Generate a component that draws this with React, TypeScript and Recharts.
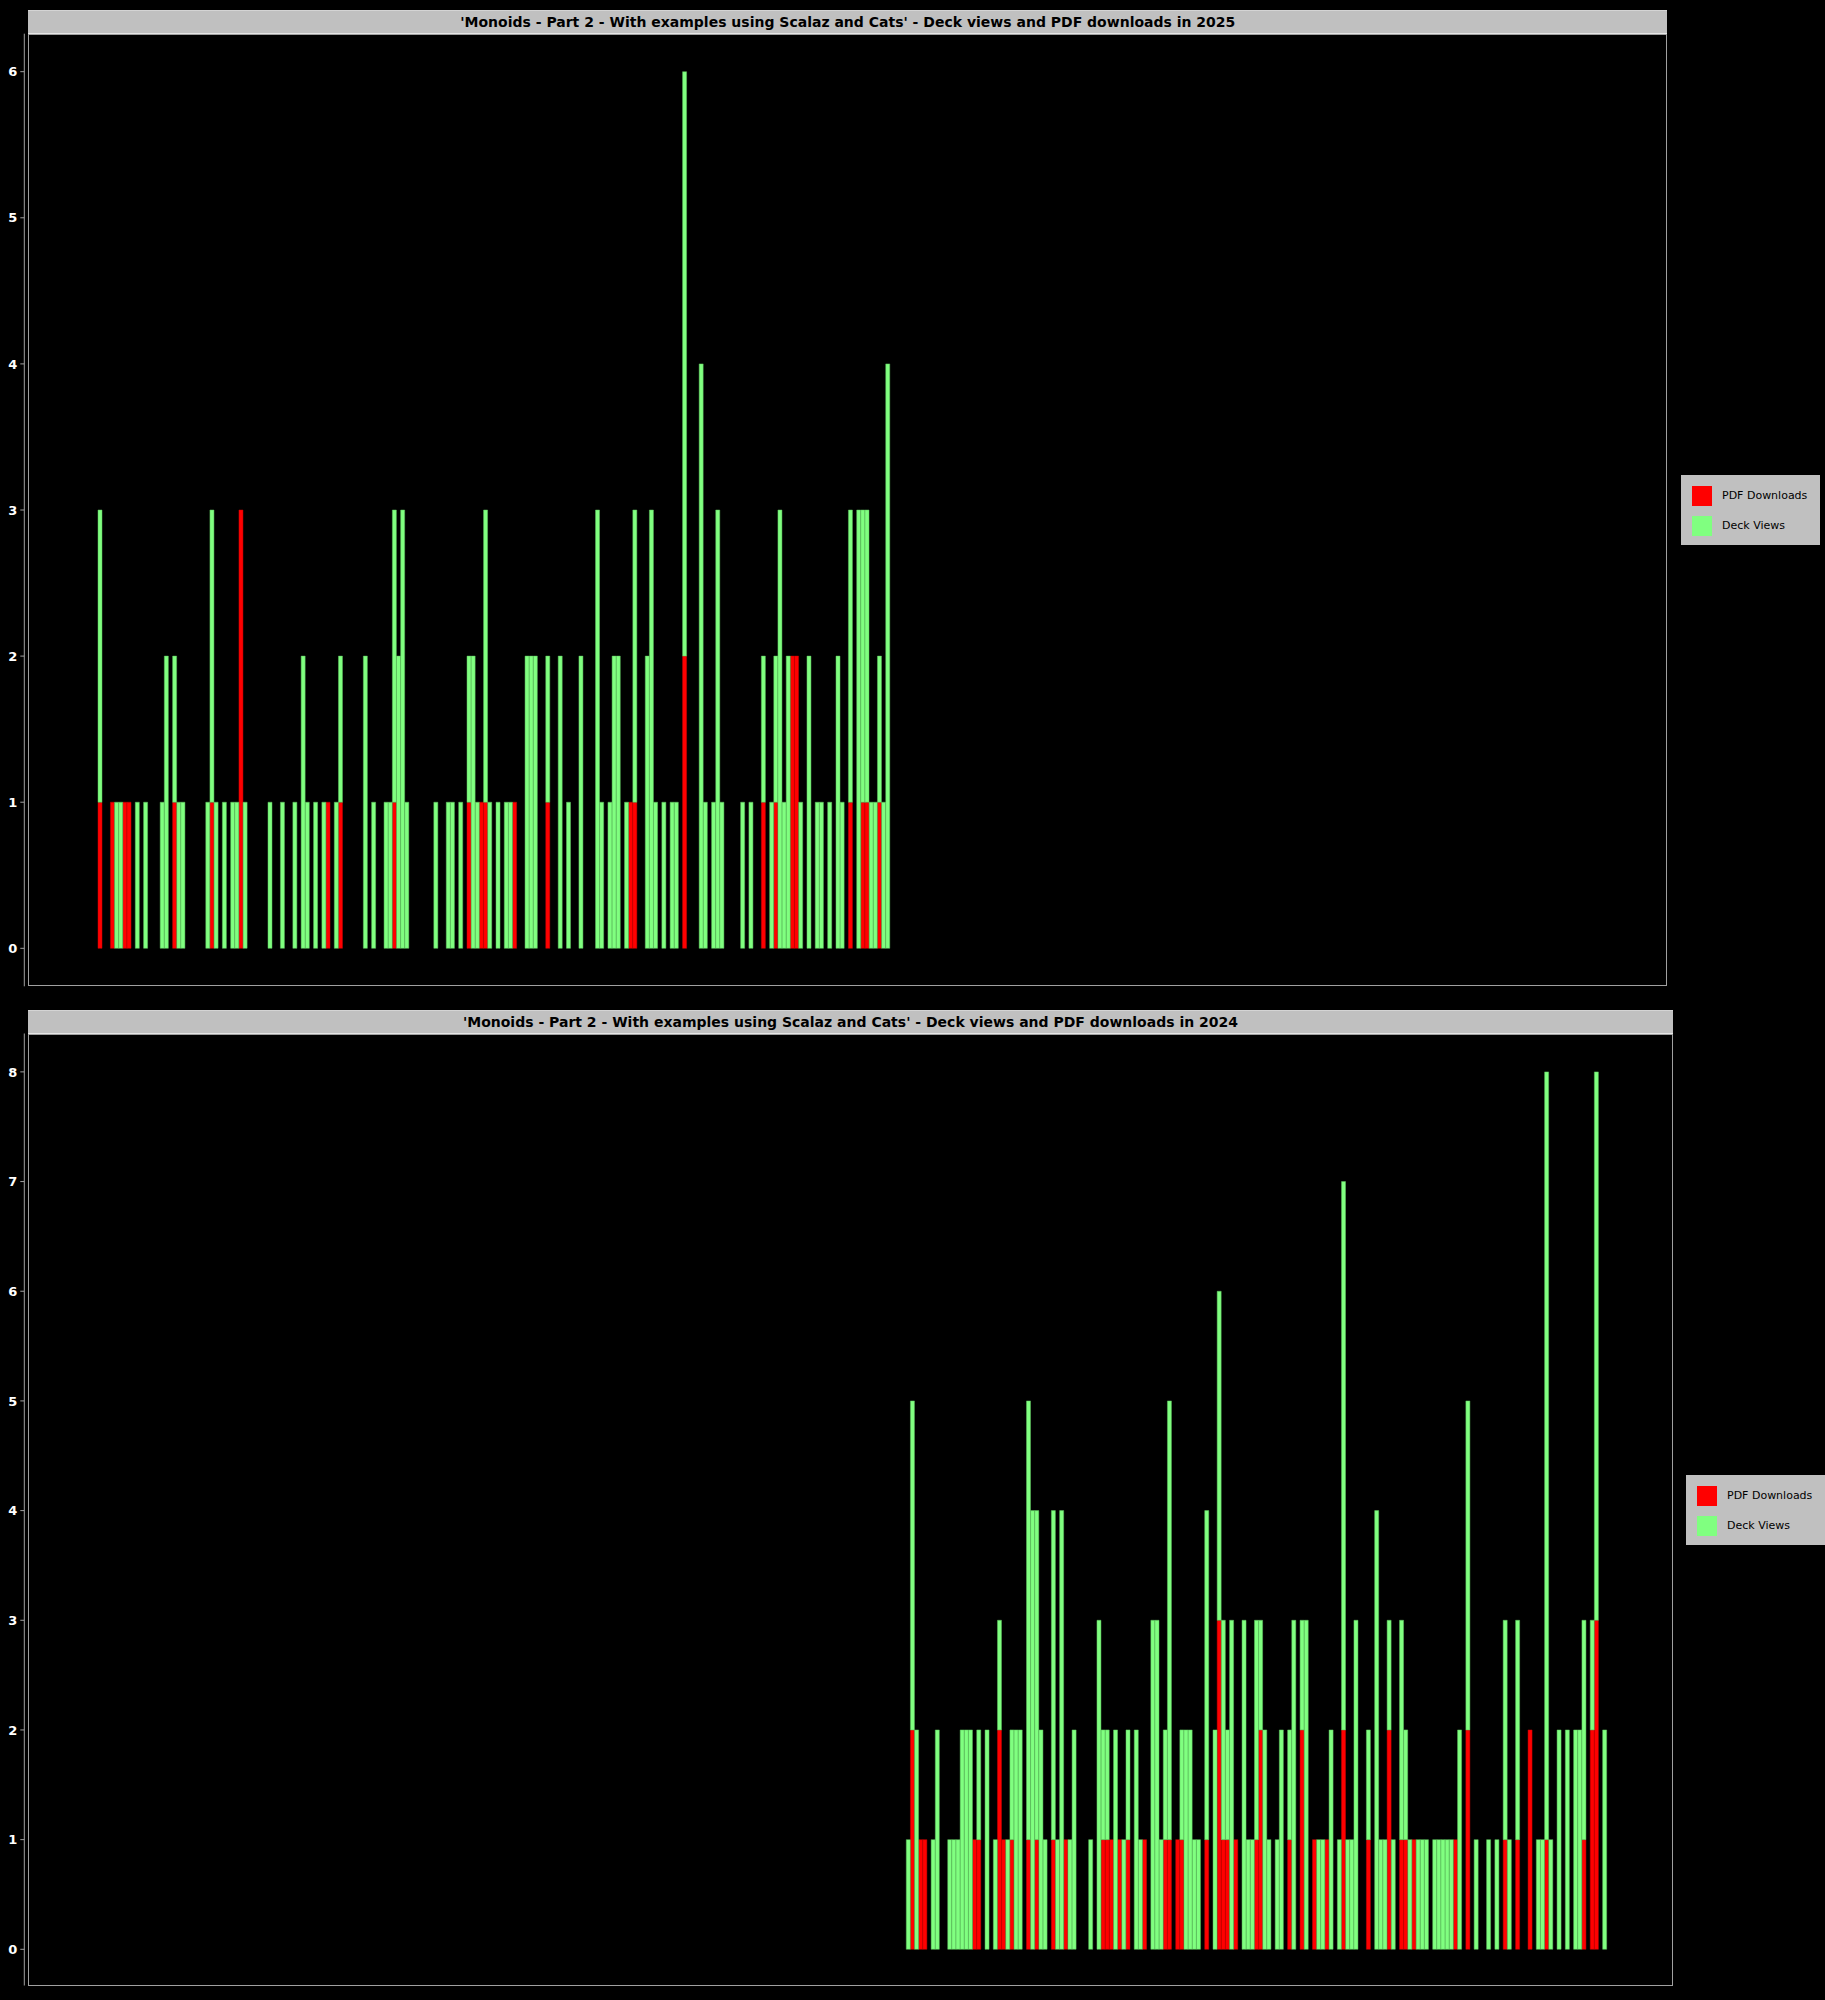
import React from "react";
import { BarChart, Bar, XAxis, YAxis } from "recharts";

// ---------- text ----------
const TITLE_2025 =
  "'Monoids - Part 2 - With examples using Scalaz and Cats' - Deck views and PDF downloads in 2025";
const TITLE_2024 =
  "'Monoids - Part 2 - With examples using Scalaz and Cats' - Deck views and PDF downloads in 2024";
const SERIES_NAMES = ["PDF Downloads", "Deck Views"];
const SERIES_COLORS = ["#ff0000", "#80ff80"];
const SERIES_STROKES = ["#c80000", "#5fc35f"];

// ---------- 2025 data (day of year, 0 = Jan 1) ----------
const days2025 = [
  0, 3, 4, 5, 6, 7, 9, 11, 15, 16, 18, 19, 20, 26, 27, 28, 30, 32, 33, 34, 35, 41, 44, 47, 49,
  50, 52, 54, 55, 57, 58, 64, 66, 69, 70, 71, 72, 73, 74, 81, 84, 85, 87, 89, 90, 91, 92, 93, 94,
  96, 98, 99, 100, 103, 104, 105, 108, 111, 113, 116, 120, 121, 123, 124, 125, 127, 128, 129, 132,
  133, 134, 136, 138, 139, 141, 145, 146, 148, 149, 150, 155, 157, 160, 162, 163, 164, 165, 166,
  167, 168, 169, 171, 173, 174, 176, 178, 179, 181, 183, 184, 185, 186, 187, 188, 189, 190,
];
const downloads2025 = [
  1, 1, 0, 0, 1, 1, 0, 0, 0, 0, 1, 0, 0, 0, 1, 0, 0, 0, 0, 3, 0, 0, 0, 0, 0,
  0, 0, 0, 1, 0, 1, 0, 0, 0, 0, 1, 0, 0, 0, 0, 0, 0, 0, 1, 0, 0, 1, 1, 0,
  0, 0, 0, 1, 0, 0, 0, 1, 0, 0, 0, 0, 0, 0, 0, 0, 0, 1, 1, 0,
  0, 0, 0, 0, 0, 2, 0, 0, 0, 0, 0, 0, 0, 1, 0, 1, 0, 0, 0,
  2, 2, 0, 0, 0, 0, 0, 0, 0, 1, 0, 1, 1, 0, 0, 1, 0, 0,
];
const views2025 = [
  2, 0, 1, 1, 0, 0, 1, 1, 1, 2, 1, 1, 1, 1, 2, 1, 1, 1, 1, 0, 1, 1, 1, 1, 2,
  1, 1, 1, 0, 1, 1, 2, 1, 1, 1, 2, 2, 3, 1, 1, 1, 1, 1, 1, 2, 1, 0, 2, 1,
  1, 1, 1, 0, 2, 2, 2, 1, 2, 1, 2, 3, 1, 1, 2, 2, 1, 0, 2, 2,
  3, 1, 1, 1, 1, 4, 4, 1, 1, 3, 1, 1, 1, 1, 1, 1, 3, 1, 2,
  0, 0, 1, 2, 1, 1, 1, 2, 1, 2, 3, 2, 2, 1, 1, 1, 1, 4,
];
const yTicks2025 = [0, 1, 2, 3, 4, 5, 6];

// ---------- 2024 data (day of year, 0 = Jan 1) ----------
const days2024 = [
  195, 196, 197, 198, 199, 201, 202, 205, 206, 207, 208, 209, 210, 211, 212, 214, 216, 217, 218,
  219, 220, 221, 222, 224, 225, 226, 227, 228, 230, 231, 232, 233, 234, 235, 239, 241, 242, 243,
  244, 245, 246, 247, 248, 250, 251, 252, 254, 255, 256, 257, 258, 260, 261, 262, 263, 264, 265,
  267, 269, 270, 271, 272, 273, 274, 276, 277, 278, 279, 280, 281, 282, 284, 285, 287, 288, 290,
  291, 293, 294, 295, 296, 297, 299, 300, 301, 302, 303, 306, 308, 309, 310, 311, 312, 314, 315,
  316, 317, 318, 319, 320, 322, 323, 324, 325, 326, 327, 328, 330, 332, 335, 337, 339, 340, 342,
  345, 347, 348, 349, 350, 352, 354, 356, 357, 358, 360, 361, 363,
];
const downloads2024 = [
  0, 2, 0, 1, 1, 0, 0, 0, 0, 0, 0, 0, 0, 1, 1, 0, 0, 2, 1,
  0, 1, 0, 0, 1, 0, 1, 0, 0, 1, 0, 0, 1, 0, 0, 0, 0, 1, 1,
  1, 0, 1, 0, 1, 0, 0, 1, 0, 0, 0, 1, 1, 1, 1, 0, 0, 0, 0,
  1, 0, 3, 1, 1, 0, 1, 0, 0, 0, 1, 2, 0, 0, 0, 0, 1, 0, 2,
  0, 1, 0, 0, 1, 0, 0, 2, 0, 0, 0, 1, 0, 0, 0, 2, 0, 1, 1,
  0, 1, 0, 0, 0, 0, 0, 0, 0, 0, 1, 0, 2, 0, 0, 0, 1, 0, 1,
  2, 0, 0, 1, 0, 0, 0, 0, 0, 1, 2, 3, 0,
];
const views2024 = [
  1, 3, 2, 0, 0, 1, 2, 1, 1, 1, 2, 2, 2, 0, 1, 2, 1, 1, 0,
  1, 1, 2, 2, 4, 4, 3, 2, 1, 3, 1, 4, 0, 1, 2, 1, 3, 1, 1,
  0, 2, 0, 1, 1, 2, 1, 0, 3, 3, 1, 1, 4, 0, 1, 2, 2, 1, 1,
  3, 2, 3, 2, 1, 3, 0, 3, 1, 1, 2, 1, 2, 1, 1, 2, 1, 3, 1,
  3, 0, 1, 1, 0, 2, 1, 5, 1, 1, 3, 1, 4, 1, 1, 1, 1, 2, 1,
  1, 0, 1, 1, 1, 1, 1, 1, 1, 1, 0, 2, 3, 1, 1, 1, 2, 1, 2,
  0, 1, 1, 7, 1, 2, 2, 2, 2, 2, 1, 5, 2,
];
const yTicks2024 = [0, 1, 2, 3, 4, 5, 6, 7, 8];

// ---------- table builder ----------
function buildYear(year: number, days: number[], downloads: number[], views: number[]) {
  const leap = (year % 4 === 0 && year % 100 !== 0) || year % 400 === 0;
  const n = leap ? 366 : 365;
  const rows: { date: string; downloads: number; views: number }[] = [];
  for (let i = 0; i < n; i++) {
    const d = new Date(Date.UTC(year, 0, 1 + i));
    rows.push({ date: d.toISOString().slice(0, 10), downloads: 0, views: 0 });
  }
  days.forEach((day, k) => {
    rows[day].downloads = downloads[k];
    rows[day].views = views[k];
  });
  return rows;
}

const table2025 = buildYear(2025, days2025, downloads2025, views2025);
const table2024 = buildYear(2024, days2024, downloads2024, views2024);

const FONT = "'DejaVu Sans', 'Liberation Sans', sans-serif";

type PanelProps = {
  top: number;
  title: string;
  data: { date: string; downloads: number; views: number }[];
  ticks: number[];
  domain: [number, number];
  plotTop: number;
  plotBottom: number;
  plotRight: number;
  padRight: number;
  legendLeft: number;
  legendTop: number;
};

function Legend({ left, top }: { left: number; top: number }) {
  return (
    <div
      style={{
        position: "absolute",
        left,
        top,
        width: 139,
        height: 70,
        background: "#c0c0c0",
        fontFamily: FONT,
        fontSize: 11,
        color: "#000",
      }}
    >
      {SERIES_NAMES.map((name, i) => (
        <div key={name}>
          <div
            style={{
              position: "absolute",
              left: 11,
              top: 11 + i * 30,
              width: 20,
              height: 20,
              background: SERIES_COLORS[i],
            }}
          />
          <div
            style={{
              position: "absolute",
              left: 41,
              top: 11 + i * 30,
              height: 20,
              lineHeight: "20px",
              whiteSpace: "nowrap",
            }}
          >
            {name}
          </div>
        </div>
      ))}
    </div>
  );
}

function Panel(p: PanelProps) {
  const AXIS_X = 24.3;
  const PLOT_LEFT = 28.3;
  return (
    <div style={{ position: "absolute", left: 0, top: p.top, width: 1825, height: 1000 }}>
      {/* title bar */}
      <div
        style={{
          position: "absolute",
          left: PLOT_LEFT,
          top: 10,
          width: p.plotRight - PLOT_LEFT,
          height: p.plotTop - 10,
          boxSizing: "border-box",
          background: "#c0c0c0",
          borderTop: "1px solid #d4d4d4",
          borderBottom: "1px solid #e6e6e6",
          fontFamily: FONT,
          fontWeight: "bold",
          fontSize: 14,
          color: "#000",
          display: "flex",
          alignItems: "center",
          justifyContent: "center",
          whiteSpace: "nowrap",
        }}
      >
        {p.title}
      </div>
      {/* plot frame */}
      <div
        style={{
          position: "absolute",
          left: PLOT_LEFT,
          top: p.plotTop,
          width: p.plotRight - PLOT_LEFT,
          height: p.plotBottom - p.plotTop,
          boxSizing: "border-box",
          border: "1px solid #a0a0a0",
        }}
      />
      <div style={{ position: "absolute", left: 0, top: 0 }}>
        <BarChart
          width={1825}
          height={1000}
          data={p.data}
          margin={{ top: p.plotTop, right: 1825 - p.plotRight, bottom: 1000 - p.plotBottom, left: 0 }}
          barCategoryGap={0}
          barGap={0}
        >
          <XAxis
            dataKey="date"
            type="category"
            hide
            padding={{ left: 98 - AXIS_X, right: p.padRight }}
          />
          <YAxis
            type="number"
            width={AXIS_X}
            domain={p.domain}
            allowDataOverflow
            ticks={p.ticks}
            interval={0}
            tickSize={4}
            tickMargin={3}
            axisLine={{ stroke: "#a0a0a0" }}
            tickLine={{ stroke: "#a0a0a0" }}
            tick={{ fill: "#ffffff", fontSize: 13, fontWeight: "bold", fontFamily: FONT }}
          />
          <Bar
            dataKey="downloads"
            name={SERIES_NAMES[0]}
            stackId="s"
            fill={SERIES_COLORS[0]}
            stroke={SERIES_STROKES[0]}
            strokeWidth={0.5}
            isAnimationActive={false}
          />
          <Bar
            dataKey="views"
            name={SERIES_NAMES[1]}
            stackId="s"
            fill={SERIES_COLORS[1]}
            stroke={SERIES_STROKES[1]}
            strokeWidth={0.5}
            isAnimationActive={false}
          />
        </BarChart>
      </div>
      <Legend left={p.legendLeft} top={p.legendTop} />
    </div>
  );
}

export default function App() {
  return (
    <div
      style={{
        position: "absolute",
        left: 0,
        top: 0,
        width: 1825,
        height: 2000,
        background: "#000",
        overflow: "hidden",
      }}
    >
      <Panel
        top={0}
        title={TITLE_2025}
        data={table2025}
        ticks={yTicks2025}
        domain={[-0.26, 6.26]}
        plotTop={33.7}
        plotBottom={986.3}
        plotRight={1667.3}
        padRight={56}
        legendLeft={1681}
        legendTop={474.5}
      />
      <Panel
        top={1000}
        title={TITLE_2024}
        data={table2024}
        ticks={yTicks2024}
        domain={[-0.33, 8.35]}
        plotTop={33.5}
        plotBottom={985.5}
        plotRight={1672.7}
        padRight={57.6}
        legendLeft={1686}
        legendTop={474.5}
      />
    </div>
  );
}
